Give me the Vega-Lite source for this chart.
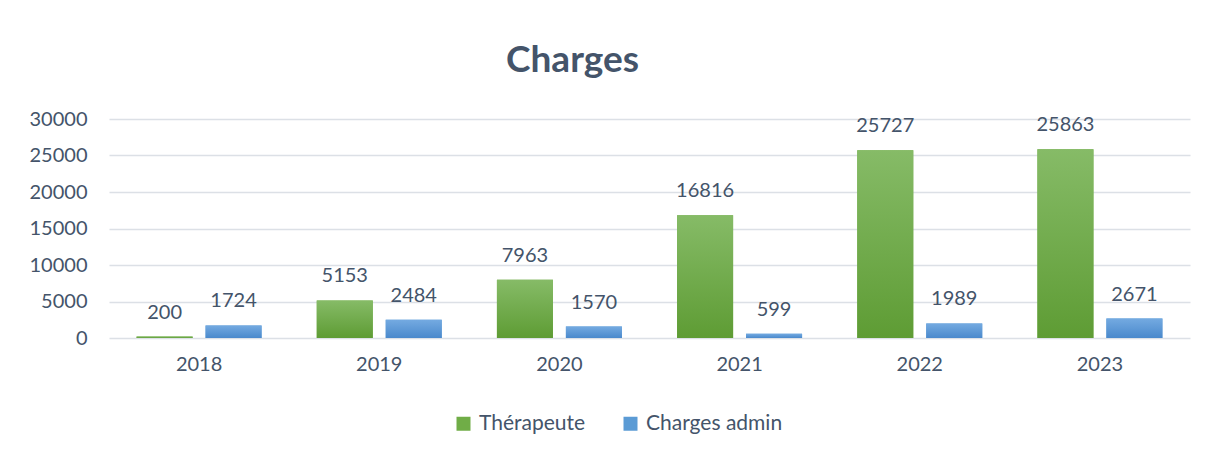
{
  "$schema": "https://vega.github.io/schema/vega-lite/v6.json",
  "width": 1081,
  "height": 219,
  "autosize": {"type": "none"},
  "padding": {"left": 109, "top": 119, "right": 18, "bottom": 112},
  "background": "white",
  "config": {"view": {"stroke": null}},
  "title": {"text": "Charges", "fontSize": 37, "font": "Lato", "fontWeight": "bold", "color": "#44546A", "anchor": "middle", "dx": -77, "offset": 29},
  "data": {"values": [
    {"year": "2018", "serie": "Thérapeute", "value": 200},
    {"year": "2018", "serie": "Charges admin", "value": 1724},
    {"year": "2019", "serie": "Thérapeute", "value": 5153},
    {"year": "2019", "serie": "Charges admin", "value": 2484},
    {"year": "2020", "serie": "Thérapeute", "value": 7963},
    {"year": "2020", "serie": "Charges admin", "value": 1570},
    {"year": "2021", "serie": "Thérapeute", "value": 16816},
    {"year": "2021", "serie": "Charges admin", "value": 599},
    {"year": "2022", "serie": "Thérapeute", "value": 25727},
    {"year": "2022", "serie": "Charges admin", "value": 1989},
    {"year": "2023", "serie": "Thérapeute", "value": 25863},
    {"year": "2023", "serie": "Charges admin", "value": 2671}
  ]},
  "encoding": {
    "x": {"field": "year", "type": "nominal", "scale": {"paddingInner": 0, "paddingOuter": 0},
      "axis": {"title": null, "labelAngle": 0, "labelFont": "Lato", "labelFontSize": 20, "labelColor": "#44546A", "labelPadding": 16, "ticks": false, "domain": false, "grid": false}},
    "xOffset": {"field": "serie", "type": "nominal", "scale": {"domain": ["Thérapeute", "Charges admin"], "paddingInner": 0.188, "paddingOuter": 0.4}},
    "y": {"field": "value", "type": "quantitative", "scale": {"domain": [0, 30000], "nice": false},
      "axis": {"title": null, "values": [0, 5000, 10000, 15000, 20000, 25000, 30000], "format": "d", "labelFont": "Lato", "labelFontSize": 20, "labelColor": "#44546A", "labelPadding": 22, "ticks": false, "domain": false, "gridColor": "#DCE0E6", "gridWidth": 1.3}}
  },
  "layer": [
    {
      "mark": {"type": "bar"},
      "encoding": {
        "color": {"field": "serie", "type": "nominal",
          "scale": {"domain": ["Thérapeute", "Charges admin"], "range": ["#70AD47", "#5B9BD5"]},
          "legend": {"title": null, "orient": "none", "legendX": 344, "legendY": 294, "direction": "horizontal", "symbolType": "square", "symbolSize": 196, "symbolStrokeWidth": 0, "labelFont": "Lato", "labelFontSize": 21, "labelColor": "#44546A", "labelOffset": 5, "columnPadding": 34}
        }
      }
    },
    {
      "transform": [{"filter": "datum.serie === 'Thérapeute'"}],
      "mark": {"type": "bar", "fill": {"gradient": "linear", "x1": 0, "y1": 0, "x2": 0, "y2": 1, "stops": [{"offset": 0, "color": "#86BB67"}, {"offset": 1, "color": "#5E9C34"}]}}
    },
    {
      "transform": [{"filter": "datum.serie === 'Charges admin'"}],
      "mark": {"type": "bar", "fill": {"gradient": "linear", "x1": 0, "y1": 0, "x2": 0, "y2": 1, "stops": [{"offset": 0, "color": "#74AAE1"}, {"offset": 1, "color": "#4A89CC"}]}}
    },
    {
      "mark": {"type": "text", "baseline": "alphabetic", "dy": -18, "font": "Lato", "fontSize": 20, "color": "#44546A"},
      "encoding": {"text": {"field": "value", "type": "quantitative", "format": "d"}}
    }
  ]
}
